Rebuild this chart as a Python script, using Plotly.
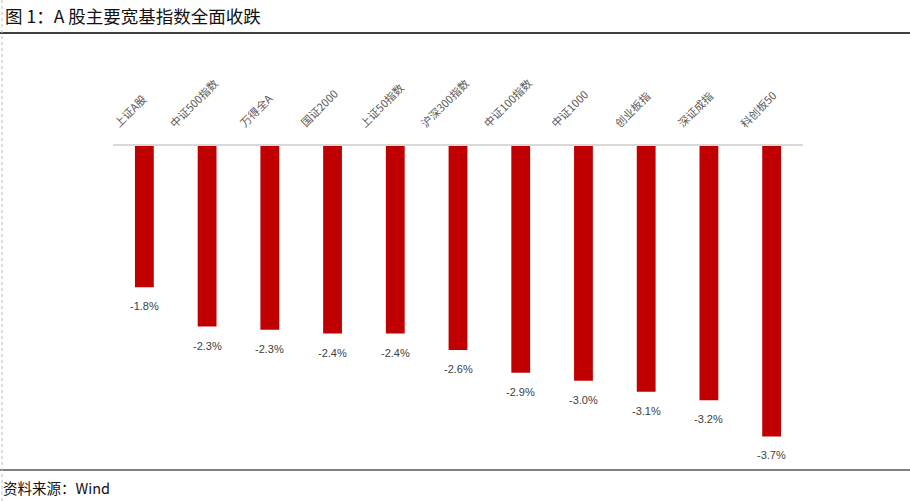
import plotly.graph_objects as go

categories = ["上证A股", "中证500指数", "万得全A", "国证2000", "上证50指数", "沪深300指数",
              "中证100指数", "中证1000", "创业板指", "深证成指", "科创板50"]
values = [-1.80, -2.30, -2.34, -2.39, -2.39, -2.60, -2.89, -2.99, -3.13, -3.24, -3.70]

title_text = "图 1：A 股主要宽基指数全面收跌"
source_text = "资料来源：Wind"

W, H = 910, 501
def py(px):
    return 1 - px / H
def pxx(px):
    return px / W

x_idx = list(range(len(categories)))

fig = go.Figure()
fig.add_trace(go.Bar(x=x_idx, y=values, marker_color="#C00000", marker_line_width=0,
                     hoverinfo="skip"))

annotations = []
for i, (c, v) in enumerate(zip(categories, values)):
    annotations.append(dict(x=i, y=v, xref="x", yref="y", text=f"{v:.1f}%", showarrow=False,
                            yanchor="top", xanchor="center", yshift=-11,
                            font=dict(family="Liberation Sans, Arial", size=11, color="#404040")))
    annotations.append(dict(x=i, y=py(133), xref="x", yref="paper", text=c, showarrow=False,
                            textangle=-45, xanchor="center", yanchor="bottom", xshift=-14,
                            font=dict(family="Noto Sans CJK SC", size=11, color="#595959")))

annotations.append(dict(x=pxx(3), y=py(16), xref="paper", yref="paper", text=title_text,
                        showarrow=False, xanchor="left", yanchor="middle",
                        font=dict(family="Noto Sans CJK SC", size=17.5, color="#111111")))
annotations.append(dict(x=pxx(1), y=py(487), xref="paper", yref="paper", text=source_text,
                        showarrow=False, xanchor="left", yanchor="middle",
                        font=dict(family="Noto Sans CJK SC", size=14.5, color="#111111")))

shapes = [
    dict(type="line", xref="paper", yref="paper", x0=0, x1=1, y0=py(33), y1=py(33),
         line=dict(color="#000000", width=1.5)),
    dict(type="line", xref="paper", yref="paper", x0=0, x1=1, y0=py(470), y1=py(470),
         line=dict(color="#000000", width=1.2)),
    dict(type="line", xref="paper", yref="paper", x0=pxx(2), x1=pxx(2), y0=0, y1=1,
         line=dict(color="#bbbbbb", width=1, dash="dot")),
]

fig.update_layout(
    width=W, height=H,
    margin=dict(l=0, r=0, t=0, b=0),
    paper_bgcolor="white", plot_bgcolor="white",
    showlegend=False, bargap=0.7,
    annotations=annotations, shapes=shapes,
    xaxis=dict(domain=[pxx(113), pxx(803)], range=[-0.5, len(categories) - 0.5],
               side="top", showticklabels=False, showgrid=False, zeroline=False,
               showline=True, linecolor="#d9d9d9", linewidth=2, ticks=""),
    yaxis=dict(domain=[py(460), py(146)], range=[-4.0, 0], showticklabels=False,
               showgrid=False, zeroline=False, showline=False),
)

fig.write_html("out.html", config={"displayModeBar": False},
               post_script="document.body.style.margin='0';document.body.style.overflow='hidden';")
